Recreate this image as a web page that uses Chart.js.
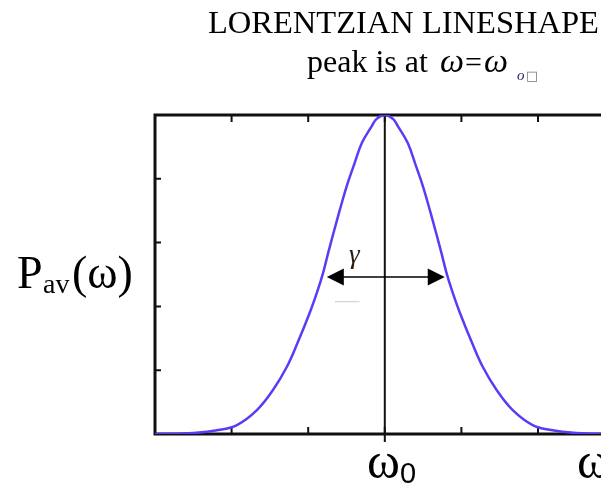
<!DOCTYPE html>
<html>
<head>
<meta charset="utf-8">
<script src="https://cdn.jsdelivr.net/npm/chart.js@4.4.1/dist/chart.umd.min.js"></script>
<style>
  html, body { margin: 0; padding: 0; background: #fff; }
  #wrap { width: 601px; height: 486px; overflow: hidden; position: relative; }
  #lineshape { display: block; }
</style>
</head>
<body>
<div id="wrap">
  <canvas id="lineshape" width="640" height="486" style="width:640px;height:486px"></canvas>
</div>
<script>
// frequency offset from the resonance, in tick units
const omega = [-3, -2.5, -2.15, -1.93, -1.67, -1.46, -1.28, -1.14, -0.98, -0.87, -0.8, -0.74, -0.67, -0.59, -0.5, -0.41, -0.3, -0.17, -0.11,
    0, 0.11, 0.17, 0.3, 0.41, 0.5, 0.59, 0.67, 0.74, 0.8, 0.87, 0.98, 1.14, 1.28, 1.46, 1.67, 1.93, 2.15, 2.5, 3];
// average absorbed power, normalised to the peak
const power = [0, 0.003, 0.013, 0.028, 0.075, 0.138, 0.21, 0.285, 0.38, 0.455, 0.51, 0.567, 0.63, 0.70, 0.775, 0.838, 0.912, 0.965, 0.987,
    1.0, 0.987, 0.965, 0.912, 0.838, 0.775, 0.70, 0.63, 0.567, 0.51, 0.455, 0.38, 0.285, 0.21, 0.138, 0.075, 0.028, 0.013, 0.003, 0];

const xTicks = [-2, -1, 0, 1, 2];
const yTicks = [0.2, 0.4, 0.6, 0.8];

// width marker: drawn at half height, between the two flanks
const halfHeight = 0.492;
const widthFrom = -0.757;
const widthTo = 0.783;

const serif = '"Liberation Serif", "Times New Roman", serif';

// box around the plot plus the little inward ticks
const framePlugin = {
    id: 'frame',
    beforeDatasetsDraw(chart) {
        const { ctx, chartArea: a, scales: { x, y } } = chart;
        ctx.save();
        ctx.strokeStyle = '#111';
        ctx.lineWidth = 3;
        ctx.strokeRect(a.left, a.top, a.right - a.left, a.bottom - a.top);
        ctx.lineWidth = 2;
        ctx.beginPath();
        xTicks.forEach(v => {
            const px = x.getPixelForValue(v);
            ctx.moveTo(px, a.top);
            ctx.lineTo(px, a.top + 7);
            ctx.moveTo(px, a.bottom);
            ctx.lineTo(px, a.bottom - 7);
        });
        yTicks.forEach(v => {
            const py = y.getPixelForValue(v);
            ctx.moveTo(a.left, py);
            ctx.lineTo(a.left + 6, py);
        });
        ctx.stroke();
        ctx.restore();
    }
};

function arrowHead(ctx, tipX, tipY, dir) {
    ctx.beginPath();
    ctx.moveTo(tipX, tipY);
    ctx.lineTo(tipX - dir * 17, tipY - 8.5);
    ctx.lineTo(tipX - dir * 17, tipY + 8.5);
    ctx.closePath();
    ctx.fill();
}

// labels and the gamma width arrow
const labelPlugin = {
    id: 'labels',
    afterDraw(chart) {
        const { ctx, scales: { x, y } } = chart;
        ctx.save();
        ctx.fillStyle = '#000';
        ctx.textBaseline = 'alphabetic';

        ctx.font = '32.5px ' + serif;
        ctx.fillText('LORENTZIAN LINESHAPE', 208, 33);

        ctx.font = '32px ' + serif;
        ctx.fillText('peak is at', 307, 72);
        ctx.font = 'italic 34px ' + serif;
        ctx.fillText('\u03c9', 440, 72);
        ctx.font = '30px ' + serif;
        ctx.fillText('=', 465, 72);
        ctx.font = 'italic 34px ' + serif;
        ctx.fillText('\u03c9', 484, 72);
        ctx.fillStyle = '#1c1c6a';
        ctx.font = 'italic 15px ' + serif;
        ctx.fillText('o', 517, 80);
        ctx.fillStyle = '#777';
        ctx.font = '13px "DejaVu Sans"';
        ctx.fillText('\u25a1', 526, 80);

        // y axis label P_av(w)
        ctx.fillStyle = '#000';
        ctx.font = '46px ' + serif;
        ctx.fillText('P', 17, 288);
        ctx.font = '28px ' + serif;
        ctx.fillText('av', 43, 293);
        ctx.font = '46px ' + serif;
        ctx.fillText('(\u03c9)', 72, 288);

        // x axis labels
        ctx.font = '50px ' + serif;
        ctx.fillText('\u03c9', 367, 478);
        const w0 = ctx.measureText('\u03c9').width;
        ctx.fillText('\u03c9', 577, 478);
        ctx.font = '29px "Liberation Sans", sans-serif';
        ctx.fillText('0', 367 + w0, 483);

        // gamma arrow
        const ay = y.getPixelForValue(halfHeight);
        const ax1 = x.getPixelForValue(widthFrom);
        const ax2 = x.getPixelForValue(widthTo);
        ctx.strokeStyle = '#000';
        ctx.lineWidth = 1.5;
        ctx.beginPath();
        ctx.moveTo(ax1 + 10, ay);
        ctx.lineTo(ax2 - 10, ay);
        ctx.stroke();
        arrowHead(ctx, ax1, ay, -1);
        arrowHead(ctx, ax2, ay, 1);
        ctx.font = 'italic 27px ' + serif;
        ctx.fillStyle = '#2a1a10';
        ctx.fillText('\u03b3', 349, 263);

        // faint stroke under the left arrow
        ctx.strokeStyle = '#d9d9d9';
        ctx.lineWidth = 1.5;
        ctx.beginPath();
        ctx.moveTo(x.getPixelForValue(-0.65), y.getPixelForValue(0.415));
        ctx.lineTo(x.getPixelForValue(-0.33), y.getPixelForValue(0.415));
        ctx.stroke();
        ctx.restore();
    }
};

const points = omega.map((w, i) => ({ x: w, y: power[i] }));

new Chart(document.getElementById('lineshape'), {
    type: 'line',
    data: {
        datasets: [{
            data: points,
            borderColor: '#5a3cf6',
            borderWidth: 2.5,
            pointRadius: 0,
            tension: 0.4,
            fill: false
        }, {
            // line marking the resonance
            data: [{ x: 0, y: -0.025 }, { x: 0, y: 1 }],
            borderColor: '#111',
            borderWidth: 2,
            pointRadius: 0,
            clip: false
        }]
    },
    options: {
        responsive: false,
        animation: false,
        events: [],
        layout: {
            padding: { left: 155, top: 115, right: 25.4, bottom: 52 }
        },
        plugins: {
            legend: { display: false },
            tooltip: { enabled: false }
        },
        scales: {
            x: { type: 'linear', min: -3, max: 3, display: false },
            y: { min: 0, max: 1, display: false }
        }
    },
    plugins: [framePlugin, labelPlugin]
});
</script>
</body>
</html>
